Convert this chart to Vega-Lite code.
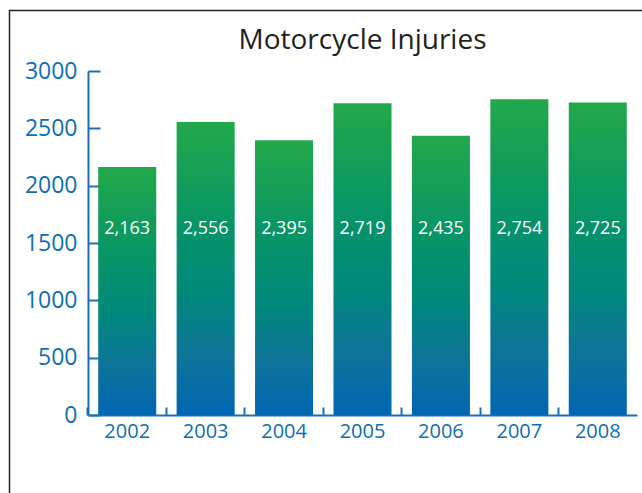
{
  "$schema": "https://vega.github.io/schema/vega-lite/v6.json",
  "width": 549,
  "height": 344,
  "autosize": {"type": "none"},
  "padding": {"left": 88, "top": 71, "right": 5, "bottom": 78},
  "background": "white",
  "config": {"view": {"stroke": null}},
  "title": {
    "text": "Motorcycle Injuries",
    "font": "Open Sans",
    "fontSize": 28,
    "fontWeight": "normal",
    "color": "#231F20",
    "anchor": "middle",
    "frame": "group",
    "baseline": "alphabetic",
    "offset": 22,
    "dy": 89
  },
  "data": {
    "values": [
      {"year": "2002", "injuries": 2163},
      {"year": "2003", "injuries": 2556},
      {"year": "2004", "injuries": 2395},
      {"year": "2005", "injuries": 2719},
      {"year": "2006", "injuries": 2435},
      {"year": "2007", "injuries": 2754},
      {"year": "2008", "injuries": 2725}
    ]
  },
  "resolve": {"scale": {"x": "independent", "y": "independent"}},
  "layer": [
    {
      "data": {"values": [{"frame": "border"}]},
      "mark": {"type": "rect", "fill": null, "stroke": "#222222", "strokeWidth": 1.5, "clip": false},
      "encoding": {
        "x": {"datum": -0.143, "type": "quantitative", "scale": {"domain": [0, 1], "nice": false, "zero": false}, "axis": null},
        "x2": {"datum": 1.3},
        "y": {"datum": 1.176, "type": "quantitative", "scale": {"domain": [0, 1], "nice": false, "zero": false}, "axis": null},
        "y2": {"datum": -1}
      }
    },
    {
      "layer": [
        {
          "mark": {
            "type": "bar",
            "fill": {
              "gradient": "linear",
              "x1": 0, "y1": 0, "x2": 0, "y2": 1,
              "stops": [
                {"offset": 0, "color": "#23A84A"},
                {"offset": 0.35, "color": "#079566"},
                {"offset": 0.6, "color": "#00877D"},
                {"offset": 0.8, "color": "#0E7499"},
                {"offset": 1, "color": "#0066B3"}
              ]
            }
          },
          "encoding": {
            "x": {
              "field": "year",
              "type": "nominal",
              "scale": {"paddingInner": 0.26, "paddingOuter": 0.13},
              "axis": {
                "title": null,
                "labelAngle": 0,
                "labelFont": "Open Sans",
                "labelFontSize": 20,
                "labelColor": "#0D6EB8",
                "labelPadding": 14,
                "domainColor": "#1B6EB7",
                "domainWidth": 2,
                "tickColor": "#1B6EB7",
                "tickWidth": 2,
                "tickSize": -8,
                "bandPosition": -0.1757
              }
            },
            "y": {
              "field": "injuries",
              "type": "quantitative",
              "scale": {"domain": [0, 3000], "nice": false},
              "axis": {
                "title": null,
                "values": [0, 500, 1000, 1500, 2000, 2500, 3000],
                "format": "d",
                "grid": false,
                "labelFont": "Open Sans",
                "labelFontSize": 23,
                "labelColor": "#0D6EB8",
                "labelPadding": 23,
                "domainColor": "#1B6EB7",
                "domainWidth": 2,
                "tickColor": "#1B6EB7",
                "tickWidth": 2,
                "tickSize": -12
              }
            }
          }
        },
        {
          "mark": {"type": "text", "color": "white", "font": "Open Sans", "fontSize": 18, "baseline": "middle", "align": "center"},
          "encoding": {
            "x": {"field": "year", "type": "nominal"},
            "y": {"datum": 1620, "type": "quantitative"},
            "text": {"field": "injuries", "type": "quantitative", "format": ","}
          }
        }
      ]
    }
  ]
}
